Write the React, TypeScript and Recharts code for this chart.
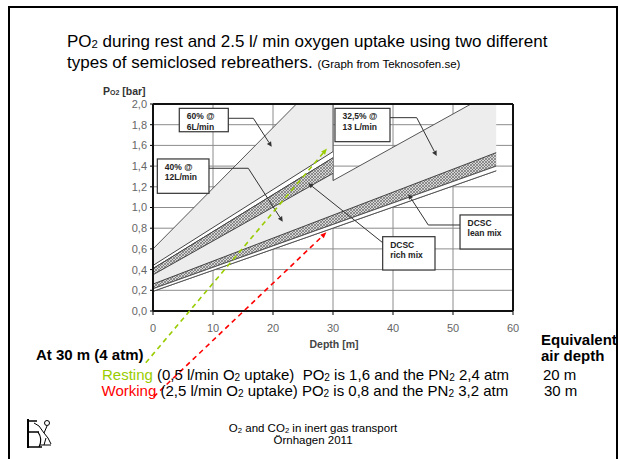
import React from 'react';
import { ComposedChart, Area, XAxis, YAxis, CartesianGrid, ReferenceLine, ReferenceArea } from 'recharts';

const FONT = '"Liberation Sans", Arial, Helvetica, sans-serif';

// Axis ticks
const xTicks = [0, 10, 20, 30, 40, 50, 60];
const yTicks = [0, 0.2, 0.4, 0.6, 0.8, 1.0, 1.2, 1.4, 1.6, 1.8, 2.0];

// Light grey PO2 ranges (60% @ 6 L/min, 40% @ 12 L/min, 32,5% @ 13 L/min)
const envDepth = [0, 23.9, 30, 30, 53, 57.2];
const envHigh = [0.6, 2.0, 2.0, 1.26, 2.0, 2.0];
const envLow = [0.19, 0.677, 0.801, 0.801, 1.27, 1.355];

// DCSC rich mix band
const richDepth = [0, 30];
const richStripTop = [0.44, 1.54];
const richHatchTop = [0.41, 1.48];
const richHatchBottom = [0.35, 1.33];

// DCSC lean mix band
const leanDepth = [0, 57.2];
const leanHatchTop = [0.26, 1.53];
const leanHatchBottom = [0.215, 1.40];
const leanStripBottom = [0.19, 1.355];

// Resting / working pointers (depth, PO2)
const restArrow = [[-1.2, -0.5], [29.0, 1.57]];
const workArrow = [[0.1, -0.83], [28.9, 0.76]];

// Annotation boxes
const boxLabels = [['60% @', '6L/min'], ['40% @', '12L/min'], ['32,5% @', '13 L/min'], ['DCSC', 'lean mix'], ['DCSC', 'rich mix']];
const boxX1 = [4.38, 0.72, 30.33, 51.17, 38.28];
const boxX2 = [12.55, 9.33, 39.5, 59.95, 47.0];
const boxY1 = [1.732, 1.137, 1.636, 0.599, 0.396];
const boxY2 = [1.958, 1.469, 1.958, 0.928, 0.718];

// Pointer polylines from boxes
const pointers = [
  [[12.55, 1.862], [16.72, 1.862], [19.78, 1.587]],
  [[9.33, 1.379], [15.88, 1.379], [21.62, 0.863]],
  [[39.5, 1.868], [43.95, 1.868], [47.28, 1.498]],
  [[51.17, 0.831], [45.88, 0.831], [42.55, 1.128]],
  [[38.28, 0.66], [25.88, 1.234]],
];

const rows = (depths: number[], lo: number[], hi: number[]) => depths.map((d, i) => ({ d, v: [lo[i], hi[i]] }));

const envData = rows(envDepth, envLow, envHigh);
const richStripData = rows(richDepth, richHatchTop, richStripTop);
const richHatchData = rows(richDepth, richHatchBottom, richHatchTop);
const leanHatchData = rows(leanDepth, leanHatchBottom, leanHatchTop);
const leanStripData = rows(leanDepth, leanStripBottom, leanHatchBottom);

const arrowShape = (color: string, width: number, dash: string | undefined, head: boolean, headLen: number, headW: number) => (p: any) => {
  const { x1, y1, x2, y2 } = p;
  const ang = Math.atan2(y2 - y1, x2 - x1);
  const bx = x2 - headLen * Math.cos(ang);
  const by = y2 - headLen * Math.sin(ang);
  const nx = -Math.sin(ang) * headW / 2;
  const ny = Math.cos(ang) * headW / 2;
  return (
    <g>
      <line x1={x1} y1={y1} x2={head ? bx : x2} y2={head ? by : y2} stroke={color} strokeWidth={width} strokeDasharray={dash} />
      {head && <polygon points={`${x2},${y2} ${bx + nx},${by + ny} ${bx - nx},${by - ny}`} fill={color} />}
    </g>
  );
};

const boxShape = (lines: string[]) => (p: any) => (
  <g>
    <rect x={p.x} y={p.y} width={p.width} height={p.height} fill="#fff" stroke="#333" strokeWidth={1.2} />
    <text x={p.x + 7.5} y={p.y + 11} fontSize={8.5} fontWeight="bold" fill="#222" fontFamily={FONT}>{lines[0]}</text>
    <text x={p.x + 7.5} y={p.y + 21.5} fontSize={8.5} fontWeight="bold" fill="#222" fontFamily={FONT}>{lines[1]}</text>
  </g>
);

const fmt = (v: number) => v.toFixed(1).replace('.', ',');

const Sub = ({ children }: any) => <span style={{ fontSize: '0.67em', position: 'relative', top: '0.08em' }}>{children}</span>;

const T = ({ left, base, size, bold, color, center, children }: any) => (
  <div style={{ position: 'absolute', left, top: base - 0.8465 * size, fontSize: size, lineHeight: `${size}px`, fontWeight: bold ? 'bold' : 'normal', color: color || '#000', whiteSpace: 'nowrap', fontFamily: FONT, transform: center ? 'translateX(-50%)' : undefined }}>{children}</div>
);

const MARGIN = { top: 104, right: 106, bottom: 118, left: 113 };

export default function App() {
  return (
    <div style={{ position: 'absolute', left: 0, top: 0, width: 619, height: 459, overflow: 'hidden', background: '#fff', fontFamily: FONT }}>
      {/* grid and tick labels underneath */}
      <div style={{ position: 'absolute', left: 0, top: 0 }}>
        <ComposedChart width={619} height={459} margin={MARGIN}>
          <CartesianGrid stroke="#8c8c8c" strokeWidth={1} />
          <XAxis type="number" dataKey="d" domain={[0, 60]} ticks={xTicks} allowDataOverflow interval={0} height={30}
            axisLine={false} tickLine={{ stroke: '#000' }} tickSize={4} tickMargin={9}
            tick={{ fill: '#666', fontSize: 11, fontFamily: FONT }} />
          <YAxis type="number" domain={[0, 2]} ticks={yTicks} allowDataOverflow interval={0} width={40} tickFormatter={fmt}
            axisLine={false} tickLine={{ stroke: '#000' }} tickSize={3} tickMargin={3}
            tick={{ fill: '#666', fontSize: 11, fontFamily: FONT }} />
        </ComposedChart>
      </div>
      {/* ranges, bands and annotations on top */}
      <div style={{ position: 'absolute', left: 0, top: 0 }}>
        <ComposedChart width={619} height={459} margin={MARGIN}>
          <defs>
            <pattern id="hatch" width="3" height="3" patternUnits="userSpaceOnUse">
              <rect width="3" height="3" fill="#d6d6d6" />
              <path d="M0,0 L3,3 M3,0 L0,3" stroke="#5e5e5e" strokeWidth="0.6" />
            </pattern>
          </defs>
          <XAxis type="number" dataKey="d" domain={[0, 60]} ticks={xTicks} allowDataOverflow height={30} axisLine={false} tickLine={false} tick={false} />
          <YAxis type="number" domain={[0, 2]} ticks={yTicks} allowDataOverflow width={40} axisLine={false} tickLine={false} tick={false} />
          <Area data={envData} dataKey="v" type="linear" fill="#ededed" fillOpacity={1} stroke="#555" strokeWidth={1} isAnimationActive={false} dot={false} activeDot={false} />
          <Area data={richStripData} dataKey="v" type="linear" fill="#fff" fillOpacity={1} stroke="#444" strokeWidth={1} isAnimationActive={false} dot={false} activeDot={false} />
          <Area data={richHatchData} dataKey="v" type="linear" fill="url(#hatch)" fillOpacity={1} stroke="#444" strokeWidth={1} isAnimationActive={false} dot={false} activeDot={false} />
          <Area data={leanHatchData} dataKey="v" type="linear" fill="url(#hatch)" fillOpacity={1} stroke="#444" strokeWidth={1} isAnimationActive={false} dot={false} activeDot={false} />
          <Area data={leanStripData} dataKey="v" type="linear" fill="#fff" fillOpacity={1} stroke="#555" strokeWidth={1} isAnimationActive={false} dot={false} activeDot={false} />
          <ReferenceLine y={2} stroke="#111" strokeWidth={2} />
          <ReferenceLine x={60} stroke="#111" strokeWidth={2} />
          <ReferenceLine y={0} stroke="#111" strokeWidth={2} />
          <ReferenceLine x={0} stroke="#111" strokeWidth={2} />
          {boxLabels.map((lb, i) => (
            <ReferenceArea key={'b' + i} x1={boxX1[i]} x2={boxX2[i]} y1={boxY1[i]} y2={boxY2[i]} ifOverflow="visible" shape={boxShape(lb)} />
          ))}
          {pointers.map((pl, i) => pl.slice(1).map((pt, j) => (
            <ReferenceLine key={`p${i}-${j}`} ifOverflow="visible"
              segment={[{ x: pl[j][0], y: pl[j][1] }, { x: pt[0], y: pt[1] }]}
              shape={arrowShape('#333', 1, undefined, j === pl.length - 2, 5, 5)} />
          )))}
          <ReferenceLine ifOverflow="visible" segment={[{ x: restArrow[0][0], y: restArrow[0][1] }, { x: restArrow[1][0], y: restArrow[1][1] }]}
            shape={arrowShape('#99cc00', 1.6, '5 4', true, 6, 5)} />
          <ReferenceLine ifOverflow="visible" segment={[{ x: workArrow[0][0], y: workArrow[0][1] }, { x: workArrow[1][0], y: workArrow[1][1] }]}
            shape={arrowShape('#ff0000', 1.6, '5 4', true, 6, 5)} />
        </ComposedChart>
      </div>

      <T left={67} base={47} size={17}>PO<Sub>2</Sub> during rest and 2.5 l/ min oxygen uptake using two different</T>
      <T left={67} base={68} size={17}>types of semiclosed rebreathers. <span style={{ fontSize: 11.5 }}>(Graph from Teknosofen.se)</span></T>

      <T left={103} base={95} size={10.5} bold color="#333">P<span style={{ fontSize: 7 }}>O2</span> [bar]</T>
      <T left={334} base={348} size={10.5} bold color="#444" center>Depth [m]</T>

      <T left={36} base={359.5} size={15} bold>At 30 m (4 atm)</T>
      <T left={541} base={344.5} size={15} bold>Equivalent</T>
      <T left={541} base={360.5} size={15} bold>air depth</T>
      <T left={102} base={380} size={15}><span style={{ color: '#99cc00' }}>Resting</span> (0,5 l/min O<Sub>2</Sub> uptake)&nbsp; PO<Sub>2</Sub> is 1,6 and the PN<Sub>2</Sub> 2,4 atm</T>
      <T left={543} base={380} size={15}>20 m</T>
      <T left={101.5} base={396} size={15}><span style={{ color: '#ff0000' }}>Working</span> (2,5 l/min O<Sub>2</Sub> uptake) PO<Sub>2</Sub> is 0,8 and the PN<Sub>2</Sub> 3,2 atm</T>
      <T left={544} base={396} size={15}>30 m</T>

      <T left={313} base={432.7} size={11.5} center>O<Sub>2</Sub> and CO<Sub>2</Sub> in inert gas transport</T>
      <T left={313} base={445} size={11.5} center>Örnhagen 2011</T>

      <svg style={{ position: 'absolute', left: 26, top: 418 }} width={28} height={32}>
        <path d="M2 1 V30" stroke="#000" strokeWidth={2} />
        <path d="M2 3 H11 M2 14 H13 M2 29 H16" stroke="#000" strokeWidth={1.4} />
        <path d="M12 14 Q17 21 13 29" fill="none" stroke="#000" strokeWidth={1.2} />
        <circle cx={21} cy={5} r={2.5} fill="none" stroke="#000" strokeWidth={1} />
        <path d="M21 8 L18 15 L22 20 M18 15 L13 8 M20 20 L18 27 M22 20 L25 26 M14 27 H25 M8 5 L13 8" fill="none" stroke="#000" strokeWidth={1} />
      </svg>

      <div style={{ position: 'absolute', left: 8, top: 6, width: 610, height: 500, border: '2px solid #000', boxSizing: 'border-box' }} />
    </div>
  );
}
